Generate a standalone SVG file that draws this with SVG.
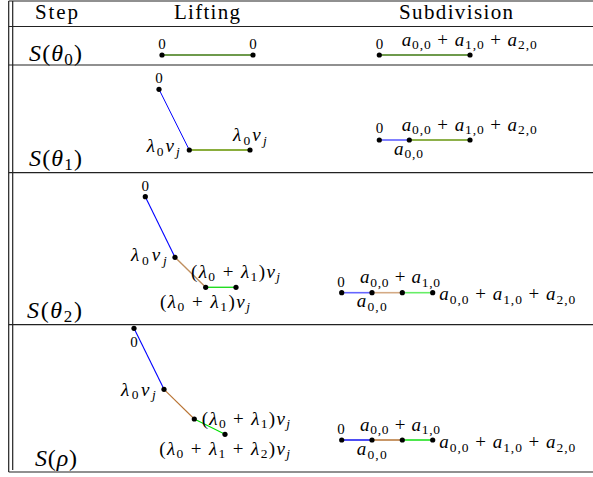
<svg xmlns="http://www.w3.org/2000/svg" width="593" height="477" viewBox="0 0 593 477">
<style>
.t{font-family:"Liberation Serif","Times New Roman",serif;fill:#000}
.h{font-size:21px}
.r{font-size:24px}
.m{font-size:19px}
.z{font-size:15px}
.i{font-style:italic}
.s{font-size:13.5px}
.rs{font-size:17px}
.grid{stroke:#222;stroke-width:1.2;fill:none}
.dot{fill:#000}
</style>
<defs>
<circle id="d" r="2.6" class="dot"/>
</defs>
<g id="table">
<line class="grid" x1="8.7" y1="1" x2="8.7" y2="472"/>
<line class="grid" x1="12.7" y1="1" x2="12.7" y2="470"/>
<line class="grid" x1="8.7" y1="1" x2="593" y2="1"/>
<line class="grid" x1="8.7" y1="26.5" x2="593" y2="26.5"/>
<line class="grid" x1="8.7" y1="65" x2="593" y2="65" stroke-width="1.5"/>
<line class="grid" x1="8.7" y1="172.7" x2="593" y2="172.7"/>
<line class="grid" x1="8.7" y1="324.7" x2="593" y2="324.7"/>
<line class="grid" x1="8.7" y1="472" x2="593" y2="472"/>
</g>
<g id="header">
<text class="t h" x="56.5" y="18.5" text-anchor="middle" textLength="43">Step</text>
<text class="t h" x="207" y="18.5" text-anchor="middle" textLength="66">Lifting</text>
<text class="t h" x="456" y="18.5" text-anchor="middle" textLength="114">Subdivision</text>
</g>
<g id="row-labels">
<text class="t r" x="29" y="60.5" textLength="53"><tspan class="i">S</tspan>(<tspan class="i">θ</tspan><tspan class="rs" dy="4">0</tspan><tspan dy="-4">)</tspan></text>
<text class="t r" x="29" y="166" textLength="53"><tspan class="i">S</tspan>(<tspan class="i">θ</tspan><tspan class="rs" dy="4">1</tspan><tspan dy="-4">)</tspan></text>
<text class="t r" x="27" y="318" textLength="55"><tspan class="i">S</tspan>(<tspan class="i">θ</tspan><tspan class="rs" dy="4">2</tspan><tspan dy="-4">)</tspan></text>
<text class="t r" x="35" y="466" textLength="42"><tspan class="i">S</tspan>(<tspan class="i">ρ</tspan>)</text>
</g>

<g id="connectors">
<line x1="162" y1="55" x2="253" y2="55" stroke="#6e9a4c" stroke-width="2"/>
<line x1="379.3" y1="55" x2="470" y2="55" stroke="#6e9a4c" stroke-width="2"/>
<line x1="159" y1="89.3" x2="189.3" y2="150" stroke="#0000ff" stroke-width="1"/>
<line x1="189.3" y1="150" x2="250" y2="150" stroke="#8aad3c" stroke-width="2"/>
<line x1="379.3" y1="140" x2="409.3" y2="140" stroke="#8080ff" stroke-width="2"/>
<line x1="409.3" y1="140" x2="470" y2="140" stroke="#8db04a" stroke-width="2"/>
<line x1="145.3" y1="196.7" x2="175" y2="257.3" stroke="#0000ff" stroke-width="1.1"/>
<line x1="175" y1="257.3" x2="205.7" y2="287.3" stroke="#bf8f5f" stroke-width="1.4"/>
<line x1="205.7" y1="287.3" x2="236" y2="287.3" stroke="#22dd22" stroke-width="1.4"/>
<line x1="341.7" y1="292.7" x2="372" y2="292.7" stroke="#6666ff" stroke-width="1.6"/>
<line x1="372" y1="292.7" x2="402.3" y2="292.7" stroke="#d4aa84" stroke-width="1.6"/>
<line x1="402.3" y1="292.7" x2="432.7" y2="292.7" stroke="#66ee66" stroke-width="1.6"/>
<line x1="134" y1="328.3" x2="164" y2="389.3" stroke="#0000ff" stroke-width="1.1"/>
<line x1="164" y1="389.3" x2="194.3" y2="419" stroke="#b87333" stroke-width="1.1"/>
<line x1="194.3" y1="419" x2="225" y2="434.3" stroke="#00e000" stroke-width="1.1"/>
<line x1="341.7" y1="440" x2="372" y2="440" stroke="#0000ee" stroke-width="1.4"/>
<line x1="372" y1="440" x2="402.3" y2="440" stroke="#b06a28" stroke-width="1.4"/>
<line x1="402.3" y1="440" x2="432.7" y2="440" stroke="#00dd00" stroke-width="1.4"/>
</g>

<g id="r1-lift">
<use href="#d" x="162" y="55"/><use href="#d" x="253" y="55"/>
<text class="t z" x="162" y="49" text-anchor="middle">0</text>
<text class="t z" x="253" y="49" text-anchor="middle">0</text>
</g>
<g id="r1-sub">
<use href="#d" x="379.3" y="55"/><use href="#d" x="470" y="55"/>
<text class="t z" x="379.5" y="49" text-anchor="middle">0</text>
<text class="t m" x="401.7" y="45.5" textLength="135"><tspan class="i">a</tspan><tspan class="s" dy="3.5">0,0</tspan><tspan dy="-3.5"> + </tspan><tspan class="i">a</tspan><tspan class="s" dy="3.5">1,0</tspan><tspan dy="-3.5"> + </tspan><tspan class="i">a</tspan><tspan class="s" dy="3.5">2,0</tspan></text>
</g>

<g id="r2-lift">
<use href="#d" x="159" y="89.3"/><use href="#d" x="189.3" y="150"/><use href="#d" x="250" y="150"/>
<text class="t z" x="159" y="82.7" text-anchor="middle">0</text>
<text class="t m" x="146.7" y="152" textLength="33"><tspan class="i">λ</tspan><tspan class="s" dy="3.5">0</tspan><tspan class="i" dy="-3.5">v</tspan><tspan class="s i" dy="3.5">j</tspan></text>
<text class="t m" x="233" y="141" textLength="33.7"><tspan class="i">λ</tspan><tspan class="s" dy="3.5">0</tspan><tspan class="i" dy="-3.5">v</tspan><tspan class="s i" dy="3.5">j</tspan></text>
</g>
<g id="r2-sub">
<use href="#d" x="379.3" y="140"/><use href="#d" x="409.3" y="140"/><use href="#d" x="470" y="140"/>
<text class="t z" x="379.5" y="133.3" text-anchor="middle">0</text>
<text class="t m" x="401.7" y="130.5" textLength="135"><tspan class="i">a</tspan><tspan class="s" dy="3.5">0,0</tspan><tspan dy="-3.5"> + </tspan><tspan class="i">a</tspan><tspan class="s" dy="3.5">1,0</tspan><tspan dy="-3.5"> + </tspan><tspan class="i">a</tspan><tspan class="s" dy="3.5">2,0</tspan></text>
<text class="t m" x="394" y="154.5" textLength="29"><tspan class="i">a</tspan><tspan class="s" dy="3.5">0,0</tspan></text>
</g>

<g id="r3-lift">
<use href="#d" x="145.3" y="196.7"/><use href="#d" x="175" y="257.3"/><use href="#d" x="205.7" y="287.3"/><use href="#d" x="236" y="287.3"/>
<text class="t z" x="145.3" y="190.7" text-anchor="middle">0</text>
<text class="t m" x="131" y="261" textLength="35.7"><tspan class="i">λ</tspan><tspan class="s" dy="3.5">0</tspan><tspan class="i" dy="-3.5">v</tspan><tspan class="s i" dy="3.5">j</tspan></text>
<text class="t m" x="191" y="277.7" textLength="89">(<tspan class="i">λ</tspan><tspan class="s" dy="3.5">0</tspan><tspan dy="-3.5"> + </tspan><tspan class="i">λ</tspan><tspan class="s" dy="3.5">1</tspan><tspan dy="-3.5">)</tspan><tspan class="i">v</tspan><tspan class="s i" dy="3.5">j</tspan></text>
<text class="t m" x="160" y="307.5" textLength="90">(<tspan class="i">λ</tspan><tspan class="s" dy="3.5">0</tspan><tspan dy="-3.5"> + </tspan><tspan class="i">λ</tspan><tspan class="s" dy="3.5">1</tspan><tspan dy="-3.5">)</tspan><tspan class="i">v</tspan><tspan class="s i" dy="3.5">j</tspan></text>
</g>
<g id="r3-sub">
<use href="#d" x="341.7" y="292.7"/><use href="#d" x="372" y="292.7"/><use href="#d" x="402.3" y="292.7"/><use href="#d" x="432.7" y="292.7"/>
<text class="t z" x="341" y="287.3" text-anchor="middle">0</text>
<text class="t m" x="360" y="283" textLength="80"><tspan class="i">a</tspan><tspan class="s" dy="3.5">0,0</tspan><tspan dy="-3.5"> + </tspan><tspan class="i">a</tspan><tspan class="s" dy="3.5">1,0</tspan></text>
<text class="t m" x="356.7" y="307" textLength="30"><tspan class="i">a</tspan><tspan class="s" dy="3.5">0,0</tspan></text>
<text class="t m" x="439.3" y="300" textLength="136"><tspan class="i">a</tspan><tspan class="s" dy="3.5">0,0</tspan><tspan dy="-3.5"> + </tspan><tspan class="i">a</tspan><tspan class="s" dy="3.5">1,0</tspan><tspan dy="-3.5"> + </tspan><tspan class="i">a</tspan><tspan class="s" dy="3.5">2,0</tspan></text>
</g>

<g id="r4-lift">
<use href="#d" x="134" y="328.3"/><use href="#d" x="164" y="389.3"/><use href="#d" x="194.3" y="419"/><use href="#d" x="225" y="434.3"/>
<text class="t z" x="134" y="346.7" text-anchor="middle">0</text>
<text class="t m" x="121" y="395.5" textLength="34.7"><tspan class="i">λ</tspan><tspan class="s" dy="3.5">0</tspan><tspan class="i" dy="-3.5">v</tspan><tspan class="s i" dy="3.5">j</tspan></text>
<text class="t m" x="201.7" y="424.5" textLength="88.3">(<tspan class="i">λ</tspan><tspan class="s" dy="3.5">0</tspan><tspan dy="-3.5"> + </tspan><tspan class="i">λ</tspan><tspan class="s" dy="3.5">1</tspan><tspan dy="-3.5">)</tspan><tspan class="i">v</tspan><tspan class="s i" dy="3.5">j</tspan></text>
<text class="t m" x="159.3" y="454.5" textLength="130.7">(<tspan class="i">λ</tspan><tspan class="s" dy="3.5">0</tspan><tspan dy="-3.5"> + </tspan><tspan class="i">λ</tspan><tspan class="s" dy="3.5">1</tspan><tspan dy="-3.5"> + </tspan><tspan class="i">λ</tspan><tspan class="s" dy="3.5">2</tspan><tspan dy="-3.5">)</tspan><tspan class="i">v</tspan><tspan class="s i" dy="3.5">j</tspan></text>
</g>
<g id="r4-sub">
<use href="#d" x="341.7" y="440"/><use href="#d" x="372" y="440"/><use href="#d" x="402.3" y="440"/><use href="#d" x="432.7" y="440"/>
<text class="t z" x="341" y="434" text-anchor="middle">0</text>
<text class="t m" x="360" y="430.5" textLength="80"><tspan class="i">a</tspan><tspan class="s" dy="3.5">0,0</tspan><tspan dy="-3.5"> + </tspan><tspan class="i">a</tspan><tspan class="s" dy="3.5">1,0</tspan></text>
<text class="t m" x="356.7" y="455" textLength="30"><tspan class="i">a</tspan><tspan class="s" dy="3.5">0,0</tspan></text>
<text class="t m" x="439.3" y="448" textLength="136"><tspan class="i">a</tspan><tspan class="s" dy="3.5">0,0</tspan><tspan dy="-3.5"> + </tspan><tspan class="i">a</tspan><tspan class="s" dy="3.5">1,0</tspan><tspan dy="-3.5"> + </tspan><tspan class="i">a</tspan><tspan class="s" dy="3.5">2,0</tspan></text>
</g>
</svg>
